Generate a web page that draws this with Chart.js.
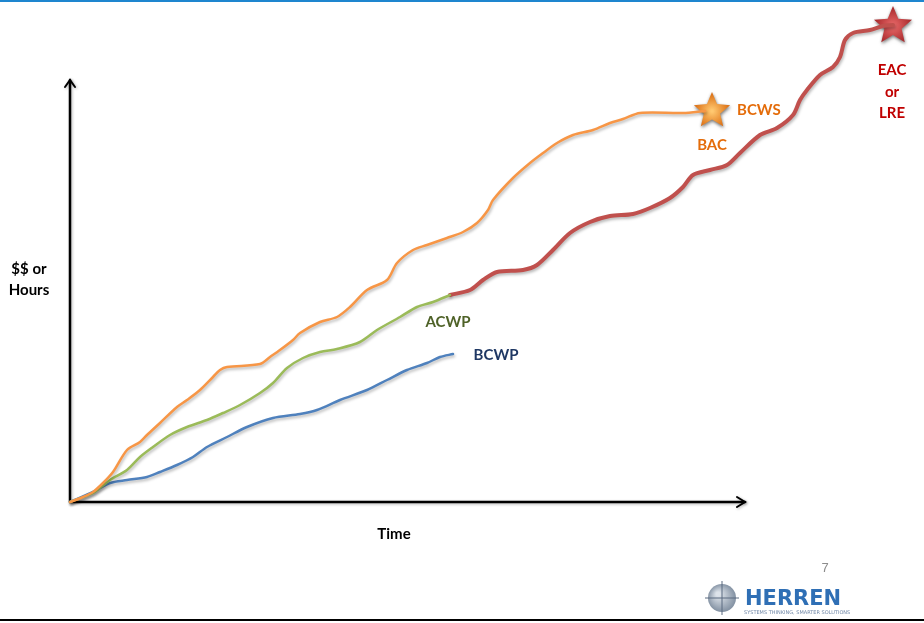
<!DOCTYPE html>
<html>
<head>
<meta charset="utf-8">
<script src="https://cdn.jsdelivr.net/npm/chart.js@4/dist/chart.umd.min.js"></script>
<style>
  body { margin: 0; background: #fff; }
  #wrap { position: relative; width: 924px; height: 623px; }
</style>
</head>
<body>
<div id="wrap"><canvas id="evm"></canvas></div>
<script>
// time and value units are arbitrary (chart is conceptual), origin at 0,0
const bcwsTime = [0, 13, 23, 33, 43, 57, 70, 77, 90, 107, 117, 130, 143, 150, 157, 190, 200, 210, 223, 230, 250, 267, 280, 297, 317, 327, 343, 357, 377, 393, 407, 418, 423, 443, 460, 473, 487, 503, 523, 540, 553, 570, 613, 635]
const bcwsValue = [0, 5, 10, 19, 30, 52, 60, 67, 79, 95, 102, 112, 125, 132, 135, 138, 145, 152, 162, 169, 180, 185, 195, 212, 222, 239, 252, 257, 264, 270, 279, 292, 302, 324, 339, 349, 359, 367, 372, 379, 383, 389, 389, 391]

const acwpTime = [0, 23, 40, 57, 70, 83, 100, 117, 137, 153, 170, 190, 203, 217, 233, 250, 267, 290, 307, 330, 347, 363, 380]
const acwpValue = [0, 9, 22, 32, 45, 55, 67, 75, 82, 89, 97, 109, 119, 134, 144, 150, 153, 160, 172, 185, 195, 200, 207]

const bcwpTime = [0, 23, 40, 57, 77, 90, 107, 123, 137, 157, 177, 203, 230, 247, 270, 297, 317, 337, 357, 370, 383]
const bcwpValue = [0, 10, 19, 22, 25, 30, 37, 45, 55, 65, 75, 84, 88, 92, 102, 112, 122, 132, 139, 145, 148]

const eacTime = [380, 400, 413, 427, 453, 467, 483, 500, 520, 540, 563, 580, 600, 613, 623, 640, 657, 670, 690, 707, 723, 730, 737, 750, 763, 770, 775, 783, 800, 813, 823]
const eacValue = [207, 212, 222, 230, 232, 237, 252, 269, 280, 286, 288, 294, 304, 315, 327, 332, 337, 349, 367, 374, 387, 402, 412, 427, 435, 445, 462, 469, 472, 476, 477]

const bacPoint = [642, 392]
const eacPoint = [823, 477]

const xAxisEnd = 675
const yAxisEnd = 422

const toXY = (xs, ys) => xs.map((x, i) => ({ x: x, y: ys[i] }))

const makeStar = (size, inner, outer) => {
  const c = document.createElement('canvas')
  c.width = size; c.height = size
  const g = c.getContext('2d')
  const cx = size / 2, cy = size / 2 + 1, R = size / 2 - 3, r = R * 0.45
  g.beginPath()
  for (let i = 0; i < 10; i++) {
    const a = -Math.PI / 2 + i * Math.PI / 5
    const rr = i % 2 === 0 ? R : r
    g.lineTo(cx + rr * Math.cos(a), cy + rr * Math.sin(a))
  }
  g.closePath()
  const grad = g.createRadialGradient(cx, cy, 1, cx, cy, R)
  grad.addColorStop(0, inner)
  grad.addColorStop(1, outer)
  g.shadowColor = 'rgba(0,0,0,0.35)'
  g.shadowBlur = 3
  g.shadowOffsetY = 1
  g.fillStyle = grad
  g.fill()
  return c
}

const orangeStar = makeStar(44, '#FFC870', '#D9680C')
const redStar = makeStar(46, '#E86868', '#A32427')

const lineShadow = {
  id: 'lineShadow',
  beforeDatasetsDraw(chart) {
    const ctx = chart.ctx
    ctx.save()
    ctx.shadowColor = 'rgba(0,0,0,0.28)'
    ctx.shadowBlur = 3
    ctx.shadowOffsetX = 1
    ctx.shadowOffsetY = 2
  },
  afterDatasetsDraw(chart) {
    chart.ctx.restore()
  }
}

const decorations = {
  id: 'decorations',
  beforeDatasetsDraw(chart) {
    const ctx = chart.ctx
    const xs = chart.scales.x, ys = chart.scales.y
    const ox = xs.getPixelForValue(0), oy = ys.getPixelForValue(0)
    const ex = xs.getPixelForValue(xAxisEnd), ey = ys.getPixelForValue(yAxisEnd)
    ctx.save()
    ctx.strokeStyle = '#000'
    ctx.lineWidth = 2.5
    ctx.lineCap = 'round'
    ctx.lineJoin = 'miter'
    ctx.shadowColor = 'rgba(0,0,0,0.3)'
    ctx.shadowBlur = 3
    ctx.shadowOffsetY = 1
    ctx.beginPath()
    ctx.moveTo(ox, oy); ctx.lineTo(ox, ey)
    ctx.moveTo(ox, oy); ctx.lineTo(ex, oy)
    ctx.stroke()
    ctx.lineWidth = 2
    ctx.beginPath()
    ctx.moveTo(ox - 5, ey + 7); ctx.lineTo(ox, ey); ctx.lineTo(ox + 5, ey + 7)
    ctx.moveTo(ex - 8, oy - 5); ctx.lineTo(ex, oy); ctx.lineTo(ex - 8, oy + 5)
    ctx.stroke()
    ctx.restore()
  },
  afterDraw(chart) {
    const ctx = chart.ctx
    const xs = chart.scales.x, ys = chart.scales.y
    const px = v => xs.getPixelForValue(v), py = v => ys.getPixelForValue(v)
    const label = (t, x, y, color, align) => {
      ctx.fillStyle = color
      ctx.textAlign = align || 'center'
      ctx.fillText(t, px(x), py(y))
    }
    ctx.save()
    ctx.textBaseline = 'middle'
    ctx.font = 'bold 15px Lato'
    label('BCWS', 667, 392, '#E46C0A', 'left')
    label('BAC', 642, 357, '#E46C0A')
    label('EAC', 822, 432, '#C00000')
    label('or', 822, 410, '#C00000')
    label('LRE', 822, 389, '#C00000')
    label('ACWP', 378, 180, '#4F6228')
    label('BCWP', 426, 147, '#1F3864')
    label('$$ or', -41, 233, '#000')
    label('Hours', -41, 212, '#000')
    label('Time', 324, -32, '#000')

    // slide chrome
    ctx.fillStyle = '#1E86CF'
    ctx.fillRect(0, 0, 924, 2)
    ctx.fillStyle = '#000'
    ctx.fillRect(0, 619, 924, 2)
    ctx.font = '13px "Liberation Sans"'
    ctx.fillStyle = '#8C8C8C'
    ctx.textAlign = 'center'
    ctx.fillText('7', 825, 568)

    // logo
    const gx = 722, gy = 598
    const gg = ctx.createRadialGradient(gx - 4, gy - 4, 2, gx, gy, 15)
    gg.addColorStop(0, '#DDE3EA')
    gg.addColorStop(1, '#7D8C9E')
    ctx.fillStyle = gg
    ctx.beginPath(); ctx.arc(gx, gy, 14, 0, Math.PI * 2); ctx.fill()
    ctx.strokeStyle = '#5A6B80'
    ctx.lineWidth = 1
    ctx.beginPath()
    ctx.moveTo(gx - 17, gy); ctx.lineTo(gx + 17, gy)
    ctx.moveTo(gx, gy - 17); ctx.lineTo(gx, gy + 17)
    ctx.stroke()
    ctx.textAlign = 'left'
    ctx.font = 'bold 21px "DejaVu Sans"'
    ctx.fillStyle = '#2F6FB5'
    ctx.fillText('HERREN', 745, 600)
    ctx.font = '5px "DejaVu Sans"'
    ctx.fillStyle = '#6F86A6'
    ctx.fillText('SYSTEMS THINKING, SMARTER SOLUTIONS', 744, 613)
    ctx.restore()
  }
}

new Chart(document.getElementById('evm'), {
  type: 'line',
  data: {
    datasets: [
      { label: 'BCWS', data: toXY(bcwsTime, bcwsValue), borderColor: '#F79646', borderWidth: 2.5 },
      { label: 'ACWP', data: toXY(acwpTime, acwpValue), borderColor: '#9BBB59', borderWidth: 2.5 },
      { label: 'BCWP', data: toXY(bcwpTime, bcwpValue), borderColor: '#4F81BD', borderWidth: 2.5 },
      { label: 'EAC', data: toXY(eacTime, eacValue), borderColor: '#C0504D', borderWidth: 4 },
      { label: 'BAC', data: [{ x: bacPoint[0], y: bacPoint[1] }], showLine: false, pointStyle: orangeStar, pointRadius: 1 },
      { label: 'EAC star', data: [{ x: eacPoint[0], y: eacPoint[1] }], showLine: false, pointStyle: redStar, pointRadius: 1 }
    ]
  },
  options: {
    responsive: true,
    maintainAspectRatio: false,
    animation: false,
    layout: { padding: 0, autoPadding: false },
    elements: {
      line: { tension: 0.3, fill: false, borderCapStyle: 'round', borderJoinStyle: 'round' },
      point: { radius: 0, hoverRadius: 0 }
    },
    plugins: { legend: { display: false }, tooltip: { enabled: false } },
    scales: {
      x: { type: 'linear', min: -70, max: 854, display: false },
      y: { type: 'linear', min: -121, max: 502, display: false }
    }
  },
  plugins: [lineShadow, decorations]
})
</script>
</body>
</html>
